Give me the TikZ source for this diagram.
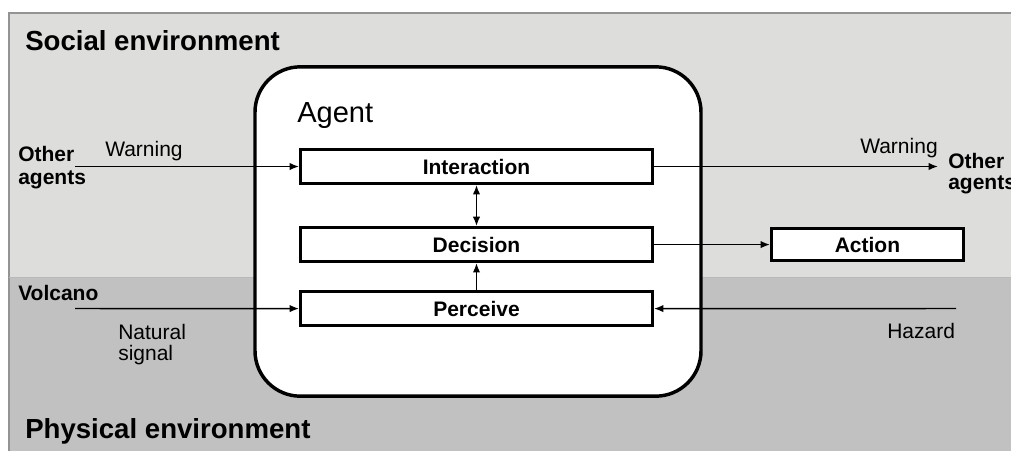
\documentclass[tikz,border=0pt]{standalone}
\usepackage{fontspec}
\setmainfont{Liberation Sans}
\usepackage{tikz}
\usetikzlibrary{positioning, arrows.meta}
\definecolor{socialgray}{RGB}{221,221,220}
\definecolor{physicalgray}{RGB}{193,193,193}

\begin{document}
\begin{tikzpicture}[x=0.75pt, y=-0.75pt, node distance=0.3cm,
  stage/.style={draw, line width=2.2pt, fill=white, minimum width=264pt, minimum height=25.6pt, inner sep=0pt, font=\fontsize{15.75}{18}\selectfont\bfseries},
  lbl/.style={inner sep=0pt, anchor=base west, font=\fontsize{15.75}{17.25}\selectfont},
  flow/.style={-{Latex[length=7pt,width=5.5pt]}, line width=1.1pt}]

\useasboundingbox (0,0) rectangle (1011,451);

% environments
\fill[socialgray] (9,13) rectangle (1011,277);
\fill[physicalgray] (9,277) rectangle (1011,451);
\draw[gray!85, line width=0.8pt] (9,451) -- (9,13) -- (1011,13);
\draw[gray!55, line width=0.6pt] (9,277) -- (1011,277);
\node[lbl, font=\fontsize{20.7}{24}\selectfont\bfseries] (social) at (25,50) {Social environment};
\node[lbl, font=\fontsize{20.7}{24}\selectfont\bfseries] (physical) at (25,438) {Physical environment};

% agent
\node[draw, line width=2.6pt, fill=white, rounded corners=34pt, minimum width=334.5pt, minimum height=247pt] (agent) at (478,231.5) {};
\node[lbl, font=\fontsize{21.8}{24}\selectfont] (agentlbl) at (297,122) {Agent};

\node[stage] (interaction) at (476.5,166.5) {Interaction};
\node[stage] (decision) [below=30.75pt of interaction] {Decision};
\node[stage] (perceive) [below=20.25pt of decision] {Perceive};
\node[stage, minimum width=144pt, minimum height=24pt] (action) [right=87pt of decision] {Action};

\draw[{Latex[length=7pt,width=5.5pt]}-{Latex[length=7pt,width=5.5pt]}, line width=1.1pt] (interaction) -- (decision);
\draw[flow] (perceive) -- (decision);
\draw[flow] (decision) -- (action);

% inputs and outputs
\node[lbl, anchor=north west, align=left, font=\fontsize{15.75}{17.25}\selectfont\bfseries] (othersL) at (18,146.5) {Other\\agents};
\node[lbl, anchor=north west, align=left, font=\fontsize{15.75}{15.75}\selectfont\bfseries] (othersR) at (948,153) {Other\\agents};
\node[lbl, font=\fontsize{15.75}{17.25}\selectfont\bfseries] (volcano) at (18,300) {Volcano};
\node[lbl] (warnL) at (105,156) {Warning};
\node[lbl] (warnR) at (860,153) {Warning};
\node[lbl, anchor=north west, align=left, font=\fontsize{15.75}{15.75}\selectfont] (natural) at (118,324.5) {Natural\\signal};
\node[lbl] (hazard) at (887,338) {Hazard};

\coordinate (srcL) at (75,166.5);
\coordinate (dstR) at (938,166.5);
\coordinate (srcV) at (75,308.5);
\coordinate (srcH) at (956,308.5);

\draw[flow] (srcL) -- (interaction);
\draw[flow] (interaction) -- (dstR);
\draw[flow] (srcV) -- (perceive);
\draw[flow] (srcH) -- (perceive);

\end{tikzpicture}
\end{document}
